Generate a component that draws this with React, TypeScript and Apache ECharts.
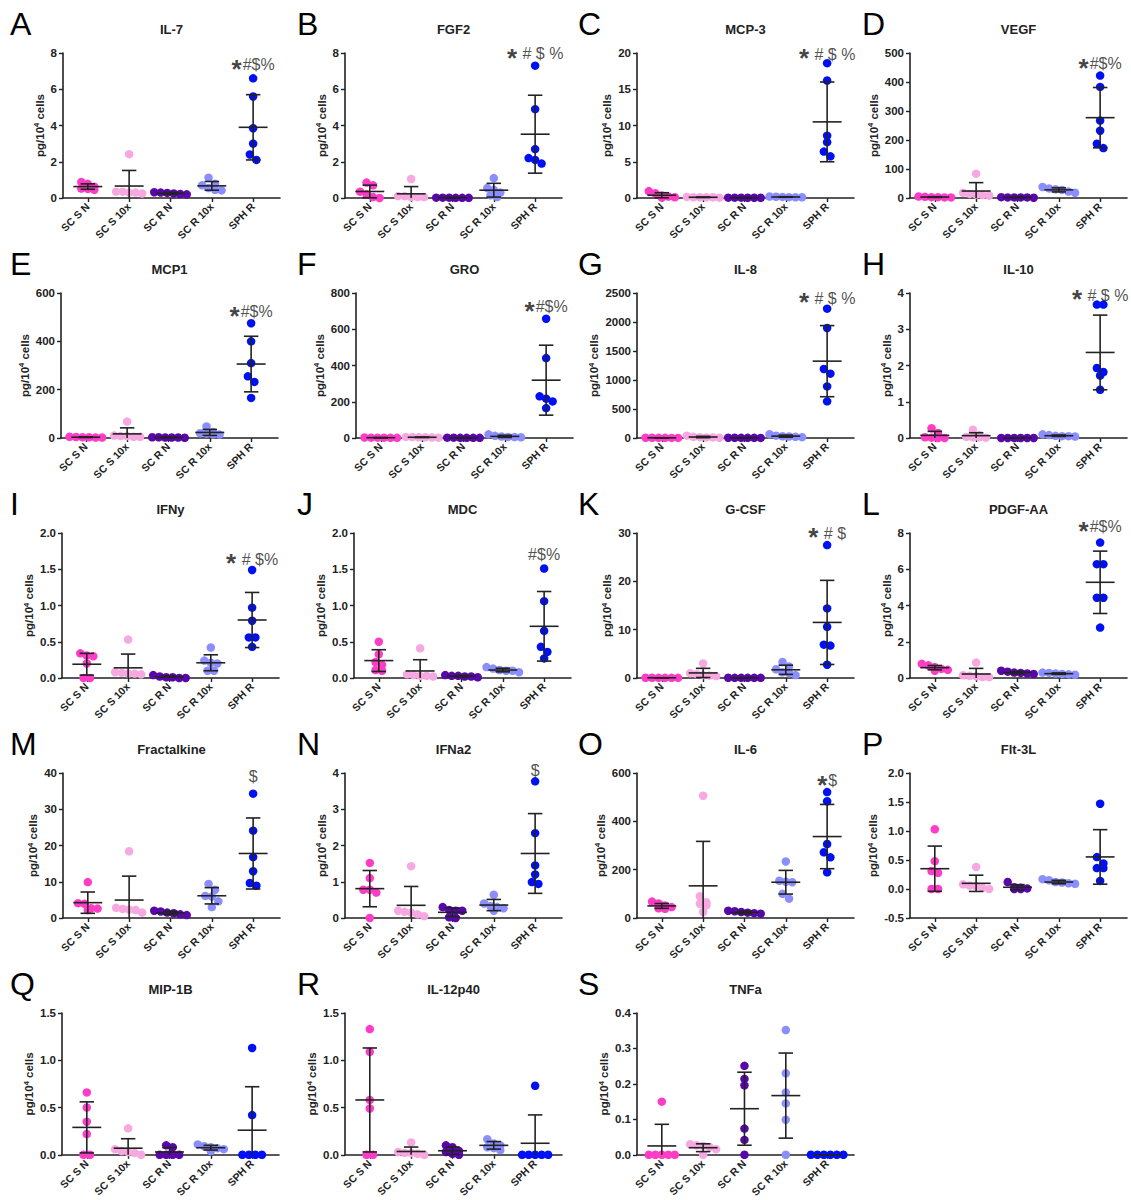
import { useEffect, useRef } from "react";
import * as echarts from "echarts";

const categories = ["SC S N", "SC S 10x", "SC R N", "SC R 10x", "SPH R"];

// A IL-7
const il7Points = [[0.88, 0.78, 0.62, 0.5, 0.45, 0.52], [2.42, 0.35, 0.3, 0.3, 0.35, 0.25], [0.3, 0.32, 0.28, 0.22, 0.25, 0.2], [1.12, 0.78, 0.7, 0.55, 0.45, 0.42], [6.6, 5.6, 3.85, 3.0, 2.4, 2.1]];
const il7Mean = [0.63, 0.66, 0.26, 0.67, 3.9];
const il7Sd = [0.15, 0.86, 0.05, 0.24, 1.8];
// B FGF2
const fgf2Points = [[0.85, 0.7, 0.35, 0.2, 0.05, 0.0], [1.05, 0.1, 0.1, 0.05, 0.05, 0.05], [0.02, 0.02, 0.01, 0.01, 0.02, 0.01], [1.1, 0.55, 0.45, 0.3, 0.15, 0.05], [7.3, 4.9, 2.7, 2.2, 2.1, 1.9]];
const fgf2Mean = [0.36, 0.23, 0.02, 0.43, 3.52];
const fgf2Sd = [0.35, 0.4, 0.01, 0.38, 2.15];
// C MCP-3
const mcp3Points = [[0.95, 0.65, 0.35, 0.2, 0.1, 0.05], [0.15, 0.1, 0.1, 0.1, 0.05, 0.1], [0.05, 0.05, 0.04, 0.04, 0.03, 0.05], [0.2, 0.15, 0.12, 0.1, 0.18, 0.1], [18.6, 16.2, 8.6, 7.7, 6.4, 5.75]];
const mcp3Mean = [0.38, 0.1, 0.04, 0.14, 10.5];
const mcp3Sd = [0.35, 0.03, 0.01, 0.04, 5.5];
// D VEGF
const vegfPoints = [[5, 4, 3, 3, 2, 2], [84, 18, 14, 12, 10, 8], [3, 2, 2, 2, 1, 2], [38, 33, 30, 28, 22, 18], [422, 383, 267, 232, 187, 172]];
const vegfMean = [3.2, 24, 2, 28, 277];
const vegfSd = [1.2, 29, 0.6, 7, 104];
// E MCP1
const mcp1Points = [[5, 4, 3, 3, 2, 2], [68, 10, 8, 8, 5, 5], [3, 3, 2, 2, 2, 1], [48, 25, 20, 18, 15, 14], [475, 400, 310, 255, 232, 166]];
const mcp1Mean = [3.2, 17, 2.2, 23, 306];
const mcp1Sd = [1.2, 25, 0.7, 12.5, 115];
// F GRO
const groPoints = [[3, 2, 2, 2, 1, 1], [6, 5, 4, 4, 3, 2], [2, 2, 1, 1, 1, 1], [20, 12, 8, 6, 5, 4], [658, 441, 230, 217, 202, 165]];
const groMean = [1.8, 4, 1.3, 9, 319];
const groSd = [0.7, 1.4, 0.5, 6, 193];
// G IL-8
const il8Points = [[5, 4, 3, 3, 2, 2], [40, 20, 15, 10, 10, 5], [5, 4, 3, 3, 3, 2], [65, 40, 30, 25, 20, 15], [2230, 1897, 1190, 1109, 890, 632]];
const il8Mean = [3.2, 17, 3.3, 32, 1325];
const il8Sd = [1.2, 12, 1, 18, 613];
// H IL-10
const il10Points = [[0.27, 0.14, 0.02, 0.01, 0.0, 0.0], [0.23, 0.08, 0.03, 0.02, 0.02, 0.01], [0, 0, 0, 0, 0, 0], [0.1, 0.08, 0.06, 0.05, 0.05, 0.04], [3.68, 3.68, 1.93, 1.82, 1.72, 1.33]];
const il10Mean = [0.073, 0.065, 0, 0.063, 2.36];
const il10Sd = [0.11, 0.08, 0, 0.02, 1.03];
// I IFNy
const ifnyPoints = [[0.34, 0.31, 0.3, 0.2, 0.0, 0.0], [0.53, 0.08, 0.07, 0.06, 0.06, 0.05], [0.04, 0.02, 0.01, 0.01, 0.0, 0.0], [0.42, 0.24, 0.21, 0.2, 0.1, 0.1], [1.49, 0.97, 0.79, 0.56, 0.56, 0.43]];
const ifnyMean = [0.19, 0.14, 0.013, 0.21, 0.8];
const ifnySd = [0.15, 0.19, 0.015, 0.11, 0.38];
// J MDC
const mdcPoints = [[0.5, 0.33, 0.22, 0.18, 0.11, 0.1], [0.41, 0.05, 0.04, 0.03, 0.03, 0.02], [0.04, 0.03, 0.03, 0.02, 0.02, 0.01], [0.15, 0.13, 0.11, 0.1, 0.1, 0.08], [1.51, 1.06, 0.65, 0.43, 0.36, 0.27]];
const mdcMean = [0.24, 0.097, 0.025, 0.11, 0.713];
const mdcSd = [0.15, 0.155, 0.01, 0.025, 0.48];
// K G-CSF
const gcsfPoints = [[0.05, 0.05, 0.04, 0.04, 0.03, 0.03], [3.0, 1.0, 0.8, 0.6, 0.5, 0.4], [0.05, 0.04, 0.04, 0.03, 0.03, 0.03], [3.3, 2.4, 1.8, 1.2, 1.0, 0.6], [27.5, 14.4, 10.6, 6.9, 6.7, 2.75]];
const gcsfMean = [0.04, 1.05, 0.04, 1.7, 11.5];
const gcsfSd = [0.01, 0.95, 0.01, 0.95, 8.7];
// L PDGF-AA
const pdgfPoints = [[0.78, 0.7, 0.6, 0.5, 0.45, 0.4], [0.85, 0.15, 0.12, 0.1, 0.05, 0.05], [0.4, 0.35, 0.3, 0.28, 0.25, 0.22], [0.3, 0.28, 0.25, 0.22, 0.2, 0.18], [7.47, 6.28, 6.28, 4.43, 4.43, 2.78]];
const pdgfMean = [0.57, 0.22, 0.3, 0.24, 5.28];
const pdgfSd = [0.12, 0.31, 0.06, 0.04, 1.72];
// M Fractalkine
const fracPoints = [[9.9, 4.1, 3.9, 2.7, 2.6, 2.2], [18.4, 2.8, 2.5, 2.3, 2.2, 1.5], [2.0, 1.8, 1.5, 1.3, 1.0, 0.8], [9.4, 7.8, 6.1, 5.9, 4.6, 3.0], [34.3, 24.1, 16.8, 12.9, 9.65, 8.9]];
const fracMean = [4.23, 4.95, 1.4, 6.13, 17.8];
const fracSd = [2.94, 6.6, 0.45, 2.25, 9.8];
// N IFNa2
const ifna2Points = [[1.52, 1.1, 0.78, 0.78, 0.7, 0.0], [1.43, 0.2, 0.17, 0.15, 0.1, 0.05], [0.3, 0.22, 0.2, 0.2, 0.02, 0.0], [0.64, 0.4, 0.33, 0.3, 0.27, 0.2], [3.77, 2.34, 1.45, 1.2, 0.99, 0.94]];
const ifna2Mean = [0.81, 0.35, 0.157, 0.357, 1.78];
const ifna2Sd = [0.5, 0.52, 0.12, 0.155, 1.1];
// O IL-6
const il6Points = [[68, 60, 52, 45, 40, 38], [506, 90, 65, 59, 52, 25], [30, 28, 25, 22, 20, 18], [234, 154, 150, 148, 100, 80], [521, 483, 306, 272, 251, 189]];
const il6Mean = [50, 133, 23, 148, 337];
const il6Sd = [10, 184, 5, 49, 133];
// P Flt-3L
const flt3lPoints = [[1.03, 0.48, 0.31, 0.28, 0.0, 0.0], [0.38, 0.08, 0.06, 0.05, 0.02, 0.0], [0.12, 0.03, 0.02, 0.01, 0.0, 0.0], [0.17, 0.15, 0.12, 0.11, 0.1, 0.09], [1.47, 0.55, 0.44, 0.36, 0.36, 0.14]];
const flt3lMean = [0.35, 0.098, 0.03, 0.12, 0.553];
const flt3lSd = [0.39, 0.14, 0.045, 0.03, 0.47];
// Q MIP-1B
const mip1bPoints = [[0.66, 0.5, 0.35, 0.22, 0.0, 0.0], [0.28, 0.06, 0.04, 0.03, 0.02, 0.0], [0.1, 0.08, 0.0, 0.0, 0.0, 0.0], [0.11, 0.09, 0.08, 0.07, 0.06, 0.04], [1.13, 0.42, 0, 0, 0, 0]];
const mip1bMean = [0.29, 0.07, 0.03, 0.075, 0.26];
const mip1bSd = [0.27, 0.1, 0.047, 0.025, 0.46];
// R IL-12p40
const il12Points = [[1.33, 1.09, 0.58, 0.49, 0.0, 0.0], [0.13, 0.03, 0.02, 0.02, 0.01, 0.0], [0.1, 0.08, 0.04, 0.03, 0.01, 0.0], [0.165, 0.12, 0.1, 0.08, 0.07, 0.05], [0.73, 0, 0, 0, 0, 0]];
const il12Mean = [0.58, 0.035, 0.043, 0.1, 0.122];
const il12Sd = [0.55, 0.047, 0.04, 0.04, 0.3];
// S TNFa
const tnfaPoints = [[0.15, 0, 0, 0, 0, 0], [0.03, 0.027, 0.025, 0.022, 0.016, 0.0], [0.251, 0.214, 0.196, 0.074, 0.042, 0.0], [0.352, 0.23, 0.176, 0.145, 0.099, 0.0], [0, 0, 0, 0, 0, 0]];
const tnfaMean = [0.025, 0.02, 0.13, 0.167, 0];
const tnfaSd = [0.061, 0.011, 0.103, 0.12, 0];

const panelLetters = ["A", "B", "C", "D", "E", "F", "G", "H", "I", "J", "K", "L", "M", "N", "O", "P", "Q", "R", "S"];
const panelTitles = ["IL-7", "FGF2", "MCP-3", "VEGF", "MCP1", "GRO", "IL-8", "IL-10", "IFNy", "MDC", "G-CSF", "PDGF-AA", "Fractalkine", "IFNa2", "IL-6", "Flt-3L", "MIP-1B", "IL-12p40", "TNFa"];
const yMins = [0, 0, 0, 0, 0, 0, 0, 0, 0, 0, 0, 0, 0, 0, 0, -0.5, 0, 0, 0];
const yMaxs = [8, 8, 20, 500, 600, 800, 2500, 4, 2, 2, 30, 8, 40, 4, 600, 2, 1.5, 1.5, 0.4];
const yTicks = [2, 2, 5, 100, 200, 200, 500, 1, 0.5, 0.5, 10, 2, 10, 1, 200, 0.5, 0.5, 0.5, 0.1];
const yDecimals = [0, 0, 0, 0, 0, 0, 0, 0, 1, 1, 0, 0, 0, 0, 0, 1, 1, 1, 1];
const sigTexts = ["*#$%", "* # $ %", "* # $ %", "*#$%", "*#$%", "*#$%", "* # $ %", "* # $ %", "* # $%", "#$%", "* # $", "*#$%", "$", "$", "*$", "", "", "", ""];
const sigLevels = [7.35, 7.95, 19.8, 463, 523, 724, 2408, 3.94, 1.64, 1.7, 29.9, 8.35, 39, 4.08, 568, 0, 0, 0, 0];

const pointSets = [il7Points, fgf2Points, mcp3Points, vegfPoints, mcp1Points, groPoints, il8Points, il10Points, ifnyPoints, mdcPoints, gcsfPoints, pdgfPoints, fracPoints, ifna2Points, il6Points, flt3lPoints, mip1bPoints, il12Points, tnfaPoints];
const meanSets = [il7Mean, fgf2Mean, mcp3Mean, vegfMean, mcp1Mean, groMean, il8Mean, il10Mean, ifnyMean, mdcMean, gcsfMean, pdgfMean, fracMean, ifna2Mean, il6Mean, flt3lMean, mip1bMean, il12Mean, tnfaMean];
const sdSets = [il7Sd, fgf2Sd, mcp3Sd, vegfSd, mcp1Sd, groSd, il8Sd, il10Sd, ifnySd, mdcSd, gcsfSd, pdgfSd, fracSd, ifna2Sd, il6Sd, flt3lSd, mip1bSd, il12Sd, tnfaSd];

// ---- layout / style ----
const GROUP_COLORS = ["#ff3cc6", "#f7a8e0", "#5808a8", "#8a8eff", "#0010f5"];
const ROW_TOP = [53, 293, 533, 773, 1013];
const AXIS_X = [63, 345, 637, 910, 61, 356, 637, 910, 62, 354, 637, 910, 63, 345, 637, 910, 62, 345, 637];
const LETTER_X = [10, 297, 578, 862];
const PLOT_W = 217;
const PLOT_H = 145;
const X_MIN = -0.6;
const X_MAX = 4.65;
const PX_PER_X = PLOT_W / (X_MAX - X_MIN);
const FONT = "'Liberation Sans', Arial, sans-serif";
const INK = "#222222";

function swarmOffsets(vals: number[], pxPerY: number): number[] {
  const order = vals.map((_, i) => i).sort((a, b) => vals[b] - vals[a]);
  const res = new Array(vals.length).fill(0);
  const SPREAD = 6.5;
  const ROW = 6.5;
  let row: number[] = [];
  let start = 0;
  const flush = () => {
    const n = row.length;
    row.forEach((id, k) => {
      res[id] = ((k - (n - 1) / 2) * SPREAD) / PX_PER_X;
    });
  };
  for (const id of order) {
    const y = vals[id] * pxPerY;
    if (row.length && start - y > ROW) {
      flush();
      row = [];
    }
    if (!row.length) start = y;
    row.push(id);
  }
  flush();
  return res;
}

function labelWidth(s: string): number {
  let w = 0;
  for (const ch of s) w += ch === "." ? 3.2 : ch === "-" ? 3.8 : 6.4;
  return w;
}

function buildOption() {
  const grid: any[] = [];
  const xAxis: any[] = [];
  const yAxis: any[] = [];
  const series: any[] = [];
  const graphic: any[] = [];

  panelTitles.forEach((title, k) => {
    const row = Math.floor(k / 4);
    const col = k % 4;
    const left = AXIS_X[k];
    const top = ROW_TOP[row];
    const yMin = yMins[k];
    const yMax = yMaxs[k];
    const dec = yDecimals[k];
    const fmt = (v: number) => v.toFixed(dec);
    let maxW = 0;
    for (let v = yMin; v <= yMax + 1e-9; v += yTicks[k]) maxW = Math.max(maxW, labelWidth(fmt(v)));

    grid.push({ left, top, width: PLOT_W, height: PLOT_H });
    xAxis.push({
      type: "value",
      gridIndex: k,
      min: X_MIN,
      max: X_MAX,
      splitLine: { show: false },
      axisLine: { show: true, onZero: false, lineStyle: { color: INK, width: 1.6 } },
      axisTick: { show: true, customValues: [0, 1, 2, 3, 4], length: 4, lineStyle: { color: INK, width: 1.4 } },
      axisLabel: {
        customValues: [0, 1, 2, 3, 4],
        formatter: (v: number) => categories[Math.round(v)] ?? "",
        rotate: 45,
        margin: 7,
        fontFamily: FONT,
        fontWeight: "bold",
        fontSize: 10.5,
        color: INK,
      },
    });
    yAxis.push({
      type: "value",
      gridIndex: k,
      min: yMin,
      max: yMax,
      interval: yTicks[k],
      splitLine: { show: false },
      axisLine: { show: true, onZero: false, lineStyle: { color: INK, width: 1.6 } },
      axisTick: { show: true, length: 4, lineStyle: { color: INK, width: 1.4 } },
      axisLabel: { formatter: fmt, margin: 6, fontFamily: FONT, fontWeight: "bold", fontSize: 11.5, color: INK },
      name: "pg/10{sup|4} cells",
      nameLocation: "middle",
      nameRotate: 90,
      nameGap: maxW + 10,
      nameTextStyle: {
        fontFamily: FONT,
        fontWeight: "bold",
        fontSize: 11.5,
        color: INK,
        rich: { sup: { fontFamily: FONT, fontWeight: "bold", fontSize: 7.5, color: INK, verticalAlign: "bottom", padding: [0, 0, 6, 0] } },
      },
    });

    const pxPerY = PLOT_H / (yMax - yMin);
    const dots: any[] = [];
    pointSets[k].forEach((vals, g) => {
      const offs = swarmOffsets(vals, pxPerY);
      vals.forEach((v, j) => {
        dots.push({ value: [g + offs[j], v], itemStyle: { color: GROUP_COLORS[g], opacity: 1 } });
      });
    });
    series.push({
      type: "scatter",
      xAxisIndex: k,
      yAxisIndex: k,
      symbolSize: 8.5,
      clip: false,
      silent: true,
      z: 3,
      itemStyle: { opacity: 1 },
      data: dots,
    });

    const means = meanSets[k];
    const sds = sdSets[k];
    series.push({
      type: "custom",
      xAxisIndex: k,
      yAxisIndex: k,
      silent: true,
      clip: false,
      z: 5,
      data: means.map((m, i) => [i, m, sds[i]]),
      renderItem: (_params: any, api: any) => {
        const i = api.value(0);
        const m = api.value(1);
        const s = api.value(2);
        const hiV = Math.min(m + s, yMax);
        const loV = Math.max(m - s, yMin);
        const a = api.coord([i - 0.35, m]);
        const b = api.coord([i + 0.35, m]);
        const hi = api.coord([i, hiV]);
        const lo = api.coord([i, loV]);
        const cap = api.size([0.175, 0])[0];
        const style = { stroke: INK, lineWidth: 1.6 };
        const children: any[] = [
          { type: "line", shape: { x1: a[0], y1: a[1], x2: b[0], y2: b[1] }, style },
          { type: "line", shape: { x1: hi[0], y1: hi[1], x2: lo[0], y2: lo[1] }, style },
          { type: "line", shape: { x1: hi[0] - cap, y1: hi[1], x2: hi[0] + cap, y2: hi[1] }, style },
        ];
        if (m - s >= yMin) {
          children.push({ type: "line", shape: { x1: lo[0] - cap, y1: lo[1], x2: lo[0] + cap, y2: lo[1] }, style });
        }
        return { type: "group", children };
      },
    });

    const sig = sigTexts[k];
    if (sig) {
      const hasStar = sig.startsWith("*");
      const rest = hasStar ? sig.slice(1) : sig;
      series.push({
        type: "scatter",
        xAxisIndex: k,
        yAxisIndex: k,
        symbolSize: 0,
        clip: false,
        silent: true,
        z: 6,
        data: [[4, sigLevels[k]]],
        label: {
          show: true,
          position: "inside",
          formatter: hasStar ? `{s|*}{t|${rest}}` : `{t|${rest}}`,
          rich: {
            s: { fontFamily: FONT, fontWeight: "bold", fontSize: 26, color: "#111", verticalAlign: "middle", padding: [8, 1, 0, 0] },
            t: { fontFamily: FONT, fontSize: 16, color: "#222", verticalAlign: "middle" },
          },
        },
      });
    }

    graphic.push({
      type: "text",
      x: LETTER_X[col],
      y: top - 29,
      style: { text: panelLetters[k], font: `32px ${FONT}`, fill: "#000", textAlign: "left", textVerticalAlign: "middle", align: "left", verticalAlign: "middle" },
    });
    graphic.push({
      type: "text",
      x: left + PLOT_W / 2,
      y: top - 24,
      style: { text: title, font: `bold 13px ${FONT}`, fill: INK, textAlign: "center", textVerticalAlign: "middle", align: "center", verticalAlign: "middle" },
    });
  });

  return { animation: false, backgroundColor: "#ffffff", grid, xAxis, yAxis, series, graphic };
}

export default function App() {
  const ref = useRef<HTMLDivElement>(null);
  useEffect(() => {
    if (!ref.current) return;
    const chart = echarts.init(ref.current, undefined, { renderer: "svg" });
    chart.setOption(buildOption() as any);
    return () => chart.dispose();
  }, []);
  return <div ref={ref} style={{ position: "absolute", left: 0, top: 0, width: 1131, height: 1200, background: "#fff" }} />;
}
